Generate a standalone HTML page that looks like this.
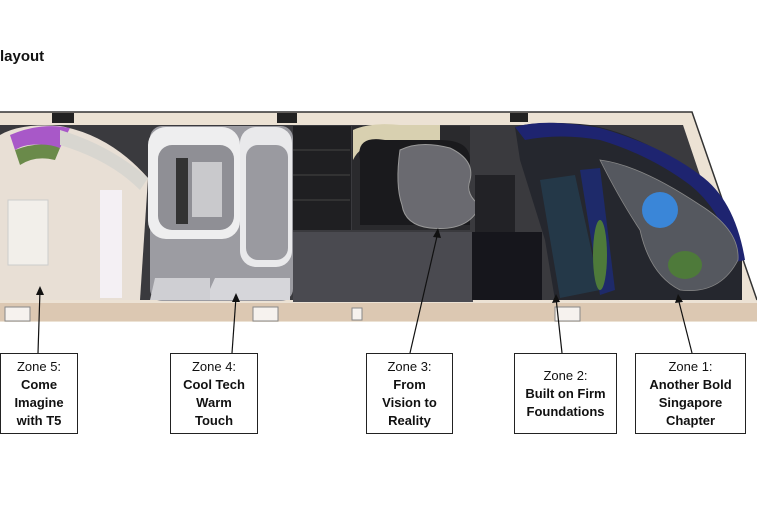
<!DOCTYPE html>
<html><head><meta charset="utf-8"><style>
html,body{margin:0;padding:0;background:#fff;width:757px;height:505px;overflow:hidden;font-family:"Liberation Sans",Arial,sans-serif}
.box{position:absolute;border:1.5px solid #222;background:#fff;text-align:center;font-size:13px;line-height:18px;color:#111;box-sizing:border-box;display:flex;flex-direction:column;justify-content:center}
.box b{font-weight:bold}
</style></head><body>
<div style="position:absolute;left:0;top:48px;font-weight:bold;font-size:15px;color:#111">layout</div>
<svg width="757" height="505" style="position:absolute;left:0;top:0">
 <polygon points="0,112 692,112 757,300 757,322 0,322" fill="#ece2d4"/>
 <polyline points="0,112 692,112 757,300" fill="none" stroke="#333" stroke-width="1.5"/>
 <rect x="0" y="303" width="757" height="18" fill="#dcc8b2"/>
 <polygon points="0,125 683,125 742,300 0,300" fill="#3a3a3e"/>
 <!-- zone 5 cream -->
 <path d="M0,135 Q20,123 60,126 Q110,135 148,178 L140,300 L0,300 Z" fill="#e8dfd5"/>
 <path d="M10,135 Q40,122 70,128 L60,148 Q30,140 15,150 Z" fill="#a858c8"/>
 <path d="M15,150 Q40,140 60,148 L55,160 Q35,155 20,165 Z" fill="#6a8a4a"/>
 <path d="M60,130 Q110,145 148,178 L140,190 Q110,160 60,145 Z" fill="#d8d6d0"/>
 <rect x="100" y="190" width="22" height="108" fill="#f4f0f4"/>
 <rect x="8" y="200" width="40" height="65" fill="#f2efea" stroke="#ccc"/>
 <!-- zone 4 -->
 <rect x="150" y="126" width="143" height="175" rx="12" fill="#9c9ca2"/>
 <rect x="148" y="127" width="92" height="112" rx="18" fill="#eeeeef"/>
 <rect x="158" y="145" width="76" height="85" rx="14" fill="#8f8f95"/>
 <rect x="176" y="158" width="12" height="66" fill="#333"/>
 <rect x="192" y="162" width="30" height="55" fill="#c9c9cc"/>
 <rect x="240" y="127" width="52" height="140" rx="16" fill="#e9e9eb"/>
 <rect x="246" y="145" width="42" height="115" rx="12" fill="#9a9aa0"/>
 <path d="M215,278 L290,278 L290,300 L205,300 Z" fill="#d6d6da"/>
 <path d="M155,278 L210,278 L210,300 L150,300 Z" fill="#cfcfd3"/>
 <!-- dark rooms -->
 <rect x="293" y="126" width="58" height="104" fill="#1f1f22"/>
 <line x1="293" y1="150" x2="350" y2="150" stroke="#444"/>
 <line x1="293" y1="175" x2="350" y2="175" stroke="#444"/>
 <line x1="293" y1="200" x2="350" y2="200" stroke="#444"/>
 <rect x="293" y="232" width="180" height="70" fill="#4a4a50"/>
 <!-- zone 3 -->
 <rect x="352" y="126" width="118" height="104" fill="#2a2a2d"/>
 <path d="M353,130 Q370,122 400,125 L440,125 L440,142 L380,142 Q360,145 353,160 Z" fill="#d8d0b0"/>
 <path d="M360,160 Q355,135 385,140 L440,140 Q470,140 470,160 L470,225 L360,225 Z" fill="#1a1a1d"/>
 <path d="M400,150 Q420,140 450,148 Q475,160 470,180 Q465,195 480,205 Q470,232 430,228 Q405,225 402,205 Q395,185 400,150 Z" fill="#6a6a70" stroke="#999" stroke-width="1"/>
 <rect x="475" y="175" width="40" height="65" fill="#222226"/>
 <rect x="472" y="232" width="70" height="68" fill="#16161c"/>
 <!-- zone 2/1 -->
 <path d="M515,127 Q540,120 590,125 Q640,135 680,165 Q720,185 742,260 L742,300 L555,300 L545,240 L520,160 Z" fill="#25272e"/>
 <path d="M515,127 Q545,118 600,128 Q660,145 700,175 Q735,200 745,260 L735,262 Q722,210 690,185 Q650,155 600,140 Q560,133 525,140 Z" fill="#1e2470"/>
 <path d="M540,180 L575,175 L600,290 L560,298 Z" fill="#243848"/>
 <path d="M580,170 L600,168 L615,290 L600,295 Z" fill="#1e2a6a"/>
 <path d="M600,160 Q640,165 700,205 Q740,230 738,260 Q720,295 680,290 Q650,275 640,230 Q620,200 600,160 Z" fill="#55585f" stroke="#888" stroke-width="0.8"/>
 <circle cx="660" cy="210" r="18" fill="#3a86d8"/>
 <ellipse cx="685" cy="265" rx="17" ry="14" fill="#4e7a3a"/>
 <ellipse cx="600" cy="255" rx="7" ry="35" fill="#4e7a3a"/>
 <!-- pillars -->
 <rect x="52" y="113" width="22" height="10" fill="#222"/>
 <rect x="277" y="113" width="20" height="10" fill="#222"/>
 <rect x="510" y="113" width="18" height="9" fill="#222"/>
 <!-- doors -->
 <rect x="253" y="307" width="25" height="14" fill="#f6f2ee" stroke="#888"/>
 <rect x="352" y="308" width="10" height="12" fill="#f6f2ee" stroke="#888"/>
 <rect x="555" y="307" width="25" height="14" fill="#f6f2ee" stroke="#888"/>
 <rect x="5" y="307" width="25" height="14" fill="#f6f2ee" stroke="#888"/>
 <g stroke="#111" stroke-width="1.2">
  <line x1="40" y1="290" x2="38" y2="353"/>
  <line x1="236" y1="297" x2="232" y2="353"/>
  <line x1="438" y1="232" x2="410" y2="353"/>
  <line x1="556" y1="298" x2="562" y2="353"/>
  <line x1="678" y1="298" x2="692" y2="353"/>
 </g>
 <g fill="#111">
  <polygon points="40,286 36,295 44,295"/>
  <polygon points="236,293 232,302 240,302"/>
  <polygon points="438,228 433,237 441,238"/>
  <polygon points="556,294 552,303 560,302"/>
  <polygon points="678,294 675,303 683,302"/>
 </g>
</svg>
<div class="box" style="left:0;top:353px;width:78px;height:81px"><span>Zone 5:</span><b>Come</b><b>Imagine</b><b>with T5</b></div>
<div class="box" style="left:170px;top:353px;width:88px;height:81px"><span>Zone 4:</span><b>Cool Tech</b><b>Warm</b><b>Touch</b></div>
<div class="box" style="left:366px;top:353px;width:87px;height:81px"><span>Zone 3:</span><b>From</b><b>Vision to</b><b>Reality</b></div>
<div class="box" style="left:514px;top:353px;width:103px;height:81px"><span>Zone 2:</span><b>Built on Firm</b><b>Foundations</b></div>
<div class="box" style="left:635px;top:353px;width:111px;height:81px"><span>Zone 1:</span><b>Another Bold</b><b>Singapore</b><b>Chapter</b></div>
</body></html>
